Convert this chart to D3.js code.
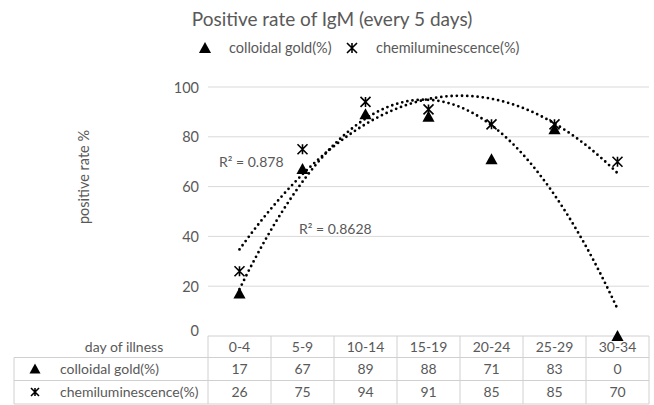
<!DOCTYPE html>
<html><head><meta charset="utf-8">
<script src="https://cdn.jsdelivr.net/npm/d3@7"></script>
<style>body{margin:0;background:#fff}svg{display:block}text{font-family:Lato,"Open Sans",sans-serif;fill:#595959}</style>
</head><body><svg id="c" width="654" height="405"></svg>
<script>
const categories = ["0-4","5-9","10-14","15-19","20-24","25-29","30-34"];
const colloidalGold = [17,67,89,88,71,83,0];
const chemiluminescence = [26,75,94,91,85,85,70];
const yTicks = [0,20,40,60,80,100];
const seriesNames = ["colloidal gold(%)","chemiluminescence(%)"];
const r2Labels = ["R\u00b2 = 0.8628","R\u00b2 = 0.878"];

const svg = d3.select("#c");
const L = 208, R = 649, T = 87, B = 336;
const x = d3.scaleBand().domain(categories).range([L,R]);
const y = d3.scaleLinear().domain([0,100]).range([B,T]);
const cx = c => x(c) + x.bandwidth()/2;

// title
svg.append("text").attr("x",332).attr("y",26).attr("text-anchor","middle")
  .style("font-size","19px").text("Positive rate of IgM (every 5 days)");

// grid
svg.append("g").selectAll("line").data(yTicks.filter(d=>d>0)).join("line")
  .attr("x1",L).attr("x2",R).attr("y1",d=>y(d)).attr("y2",d=>y(d))
  .attr("stroke","#d9d9d9").attr("stroke-width",1);

// y axis labels
const ya = svg.append("g").attr("transform",`translate(${199},0)`)
  .call(d3.axisLeft(y).tickValues(yTicks).tickSize(0).tickPadding(0));
ya.select(".domain").remove();
ya.selectAll("text").style("font-size","14.5px").style("font-family","Lato,sans-serif").attr("fill","#595959").attr("dy","0.35em");
ya.selectAll("text").filter(d=>d===0).attr("y",-6);

svg.append("text").attr("transform","translate(89,177) rotate(-90)").attr("text-anchor","middle")
  .style("font-size","14.5px").text("positive rate %");

// markers
function tri(g, px, py, s){
  g.append("path").attr("d",`M${px},${py-s*0.55}L${px+s*0.55},${py+s*0.45}L${px-s*0.55},${py+s*0.45}Z`).attr("fill","#000");
}
function star(g, px, py, s){
  const h=s/2;
  g.append("path").attr("d",`M${px-h},${py-h}L${px+h},${py+h}M${px+h},${py-h}L${px-h},${py+h}M${px},${py-h}L${px},${py+h}`)
    .attr("stroke","#000").attr("stroke-width",1.6).attr("fill","none");
}

// trendlines (least squares quadratic over category index)
function quadFit(vals){
  const xs=vals.map((_,i)=>i+1);
  let S=[0,0,0,0,0], Sy=[0,0,0];
  xs.forEach((xv,i)=>{for(let k=0;k<5;k++)S[k]+=xv**k; for(let k=0;k<3;k++)Sy[k]+=xv**k*vals[i];});
  const A=[[S[0],S[1],S[2],Sy[0]],[S[1],S[2],S[3],Sy[1]],[S[2],S[3],S[4],Sy[2]]];
  for(let i=0;i<3;i++){for(let j=i+1;j<3;j++){const f=A[j][i]/A[i][i];for(let k=i;k<4;k++)A[j][k]-=f*A[i][k];}}
  const c=[0,0,0];
  for(let i=2;i>=0;i--){let s=A[i][3];for(let k=i+1;k<3;k++)s-=A[i][k]*c[k];c[i]=s/A[i][i];}
  return t=>c[0]+c[1]*t+c[2]*t*t;
}
const xIdx = d3.scaleLinear().domain([1,categories.length]).range([cx(categories[0]),cx(categories[categories.length-1])]);
[colloidalGold, chemiluminescence].forEach(vals=>{
  const f=quadFit(vals);
  const pts=d3.range(1,7.0001,0.05).map(t=>[xIdx(t),y(f(t))]);
  svg.append("path").attr("d",d3.line()(pts)).attr("fill","none").attr("stroke","#000")
    .attr("stroke-width",2.8).attr("stroke-linecap","round").attr("stroke-dasharray","0 5.2");
});

// R2 labels
svg.append("text").attr("x",219).attr("y",167).style("font-size","14px").text(r2Labels[1]);
svg.append("text").attr("x",299).attr("y",234).style("font-size","14px").text(r2Labels[0]);

// legend
tri(svg,205,48,11);
svg.append("text").attr("x",229).attr("y",53).style("font-size","14.5px").text(seriesNames[0]);
star(svg,352,48,10);
svg.append("text").attr("x",376).attr("y",53).style("font-size","14.5px").text(seriesNames[1]);

// data table
const rowsY=[336,357.5,380.5,404];
const tg=svg.append("g");
const bc="#d0d0d0";
tg.append("line").attr("x1",L).attr("x2",R).attr("y1",rowsY[0]).attr("y2",rowsY[0]).attr("stroke",bc);
[1,2,3].forEach(k=>tg.append("line").attr("x1",14).attr("x2",R).attr("y1",rowsY[k]).attr("y2",rowsY[k]).attr("stroke",bc));
x.domain().concat([null]).forEach(c=>{
  const xv = c===null? R : x(c);
  tg.append("line").attr("x1",xv).attr("x2",xv).attr("y1",rowsY[0]).attr("y2",rowsY[3]).attr("stroke",bc);
});
tg.append("line").attr("x1",14).attr("x2",14).attr("y1",rowsY[1]).attr("y2",rowsY[3]).attr("stroke",bc);
const fs="14px";
tg.append("text").attr("x",124).attr("y",352).attr("text-anchor","middle").style("font-size",fs).text("day of illness");
categories.forEach(c=>tg.append("text").attr("x",cx(c)).attr("y",352).attr("text-anchor","middle").style("font-size",fs).text(c));
tri(tg,35,369,10);
star(tg,35,392,8);
tg.append("text").attr("x",60).attr("y",374).style("font-size",fs).text(seriesNames[0]);
tg.append("text").attr("x",60).attr("y",397).style("font-size",fs).text(seriesNames[1]);
categories.forEach((c,i)=>{
  tg.append("text").attr("x",cx(c)).attr("y",374).attr("text-anchor","middle").style("font-size",fs).text(colloidalGold[i]);
  tg.append("text").attr("x",cx(c)).attr("y",397).attr("text-anchor","middle").style("font-size",fs).text(chemiluminescence[i]);
});

// data markers drawn last
const mg = svg.append("g");
categories.forEach((c,i)=>{ tri(mg,cx(c),y(colloidalGold[i]),11); star(mg,cx(c),y(chemiluminescence[i]),10); });
</script></body></html>
